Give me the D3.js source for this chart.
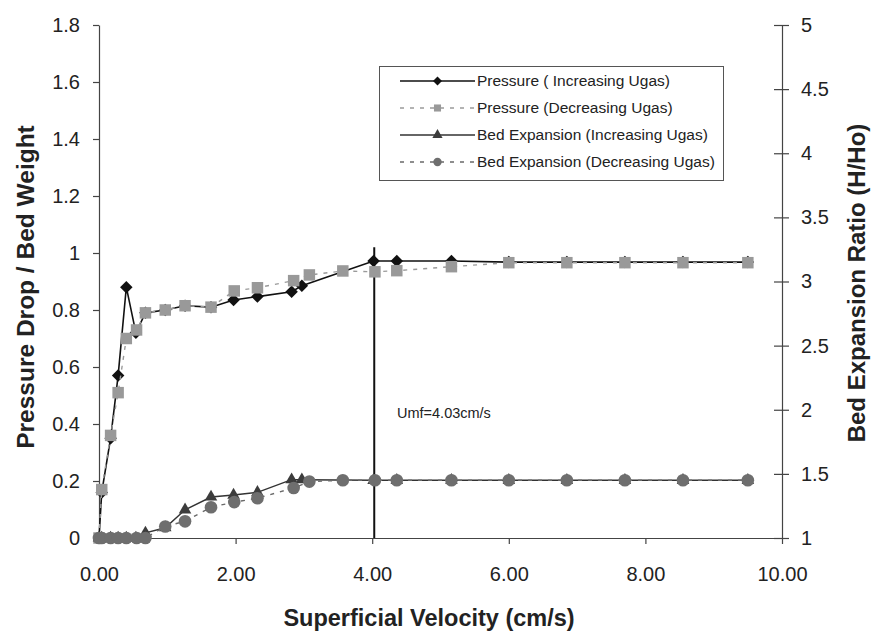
<!DOCTYPE html>
<html>
<head>
<meta charset="utf-8">
<script src="https://cdn.jsdelivr.net/npm/d3@7"></script>
<style>
  body { margin: 0; background: #fff; }
  svg text { font-family: "Liberation Sans", Arial, sans-serif; fill: #222; }
</style>
</head>
<body>
<div id="chart"></div>
<script>
// superficial gas velocity (cm/s), increasing run
const uUp = [0, 0.04, 0.17, 0.28, 0.40, 0.54, 0.68, 0.97, 1.26, 1.64, 1.97, 2.32, 2.82, 2.97, 4.02, 4.36, 5.16, 6.00, 6.85, 7.70, 8.55, 9.50];
const pressureUp = [0, 0.16, 0.35, 0.57, 0.88, 0.72, 0.79, 0.80, 0.815, 0.81, 0.835, 0.847, 0.864, 0.885, 0.972, 0.972, 0.972, 0.968, 0.968, 0.968, 0.968, 0.968];
const bedUp = [1, 1, 1, 1, 1, 1, 1.04, 1.08, 1.22, 1.32, 1.335, 1.356, 1.455, 1.455, 1.45, 1.45, 1.45, 1.45, 1.45, 1.45, 1.45, 1.45];

// decreasing run
const uDown = [0, 0.04, 0.17, 0.28, 0.40, 0.55, 0.68, 0.97, 1.26, 1.64, 1.98, 2.32, 2.85, 3.08, 3.57, 4.04, 4.36, 5.16, 6.00, 6.85, 7.70, 8.55, 9.50];
const pressureDown = [0, 0.17, 0.36, 0.51, 0.70, 0.73, 0.79, 0.80, 0.815, 0.81, 0.867, 0.878, 0.903, 0.923, 0.937, 0.934, 0.938, 0.952, 0.966, 0.966, 0.966, 0.966, 0.966];
const bedDown = [1, 1, 1, 1, 1, 1, 1, 1.09, 1.13, 1.24, 1.28, 1.31, 1.39, 1.44, 1.45, 1.45, 1.45, 1.45, 1.45, 1.45, 1.45, 1.45, 1.45];

const xTicks = [0, 2, 4, 6, 8, 10];
const leftTicks = [0, 0.2, 0.4, 0.6, 0.8, 1, 1.2, 1.4, 1.6, 1.8];
const rightTicks = [1, 1.5, 2, 2.5, 3, 3.5, 4, 4.5, 5];
const umf = 4.03;

const legendLabels = [
  'Pressure ( Increasing Ugas)',
  'Pressure (Decreasing Ugas)',
  'Bed Expansion (Increasing Ugas)',
  'Bed Expansion (Decreasing Ugas)'
];

const W = 872, H = 631;
const svg = d3.select('#chart').append('svg')
  .attr('width', W).attr('height', H);

const x = d3.scaleLinear().domain([0, 10]).range([99, 782]);
const yL = d3.scaleLinear().domain([0, 1.8]).range([538, 25]);
const yR = d3.scaleLinear().domain([1, 5]).range([538, 25]);

// axes
const gx = svg.append('g').attr('transform', 'translate(0,538)')
  .call(d3.axisBottom(x).tickValues(xTicks).tickFormat(d3.format('.2f'))
    .tickSize(6).tickSizeOuter(0).tickPadding(23));
const gl = svg.append('g').attr('transform', 'translate(99,0)')
  .call(d3.axisLeft(yL).tickValues(leftTicks).tickFormat(d => String(+d.toFixed(1)))
    .tickSize(6).tickSizeOuter(0).tickPadding(13));
const gr = svg.append('g').attr('transform', 'translate(782,0)')
  .call(d3.axisRight(yR).tickValues(rightTicks).tickFormat(d => String(d))
    .tickSize(7).tickSizeOuter(0).tickPadding(12));
// right axis ticks cross the line
gr.selectAll('.tick line').attr('x1', -8).attr('x2', 7);

[gx, gl, gr].forEach(g => {
  g.select('.domain').attr('stroke', '#444').attr('stroke-width', 1.2);
  g.selectAll('.tick line').attr('stroke', '#444').attr('stroke-width', 1.2);
  g.selectAll('text').style('font-size', '20px').attr('fill', '#2a2a2a');
});

// axis titles
svg.append('text').attr('x', 429).attr('y', 626).attr('text-anchor', 'middle')
  .style('font-size', '23.5px').style('font-weight', 'bold').text('Superficial Velocity (cm/s)');
svg.append('text').attr('transform', 'translate(25,287) rotate(-90)').attr('dy', '0.35em')
  .attr('text-anchor', 'middle').style('font-size', '24.5px').style('font-weight', 'bold')
  .text('Pressure Drop / Bed Weight');
svg.append('text').attr('transform', 'translate(857,283) rotate(-90)').attr('dy', '0.35em')
  .attr('text-anchor', 'middle').style('font-size', '24px').style('font-weight', 'bold')
  .text('Bed Expansion Ratio (H/Ho)');

// Umf marker line
svg.append('line')
  .attr('x1', x(umf)).attr('x2', x(umf))
  .attr('y1', yL(0)).attr('y2', yL(1.02))
  .attr('stroke', '#111').attr('stroke-width', 2);
svg.append('text').attr('x', 397).attr('y', 418).style('font-size', '14.5px')
  .text('Umf=4.03cm/s');

const series = [
  { u: uUp, v: pressureUp, y: yL, stroke: '#111', width: 1.6, dash: null,
    shape: 'diamond', fill: '#111', size: 78 },
  { u: uDown, v: pressureDown, y: yL, stroke: '#9a9a9a', width: 1.4, dash: '4,6',
    shape: 'square', fill: '#999', size: 132 },
  { u: uUp, v: bedUp, y: yR, stroke: '#333', width: 1.5, dash: null,
    shape: 'triangle', fill: '#3c3c3c', size: 68 },
  { u: uDown, v: bedDown, y: yR, stroke: '#6a6a6a', width: 1.4, dash: '4,6',
    shape: 'circle', fill: '#6e6e6e', size: 125 }
];

function symbolFor(s, size) {
  if (s.shape === 'diamond') return d3.symbol().type(d3.symbolSquare).size(size)();
  if (s.shape === 'square') return d3.symbol().type(d3.symbolSquare).size(size)();
  if (s.shape === 'triangle') return d3.symbol().type(d3.symbolTriangle).size(size)();
  return d3.symbol().type(d3.symbolCircle).size(size)();
}

series.forEach(s => {
  const pts = s.u.map((u, i) => [u, s.v[i]]);
  svg.append('path').datum(pts)
    .attr('fill', 'none').attr('stroke', s.stroke).attr('stroke-width', s.width)
    .attr('stroke-dasharray', s.dash)
    .attr('d', d3.line().x(d => x(d[0])).y(d => s.y(d[1])));
  svg.append('g').selectAll('path').data(pts).join('path')
    .attr('d', symbolFor(s, s.size))
    .attr('fill', s.fill)
    .attr('transform', d => `translate(${x(d[0])},${s.y(d[1])})` + (s.shape === 'diamond' ? ' rotate(45)' : ''));
});

// legend
const lg = svg.append('g');
lg.append('rect').attr('x', 379.5).attr('y', 66.5).attr('width', 344).attr('height', 114)
  .attr('fill', '#fff').attr('stroke', '#555').attr('stroke-width', 1);
const legendSizes = [40, 50, 45, 55];
legendLabels.forEach((label, i) => {
  const s = series[i];
  const cy = 81 + i * 27;
  lg.append('line').attr('x1', 400).attr('x2', 475).attr('y1', cy).attr('y2', cy)
    .attr('stroke', s.stroke).attr('stroke-width', s.width).attr('stroke-dasharray', s.dash);
  lg.append('path').attr('d', symbolFor(s, legendSizes[i])).attr('fill', s.fill)
    .attr('transform', `translate(437.5,${cy})` + (s.shape === 'diamond' ? ' rotate(45)' : ''));
  lg.append('text').attr('x', 477).attr('y', cy).attr('dy', '0.35em')
    .style('font-size', '15.5px').text(label);
});
</script>
</body>
</html>
